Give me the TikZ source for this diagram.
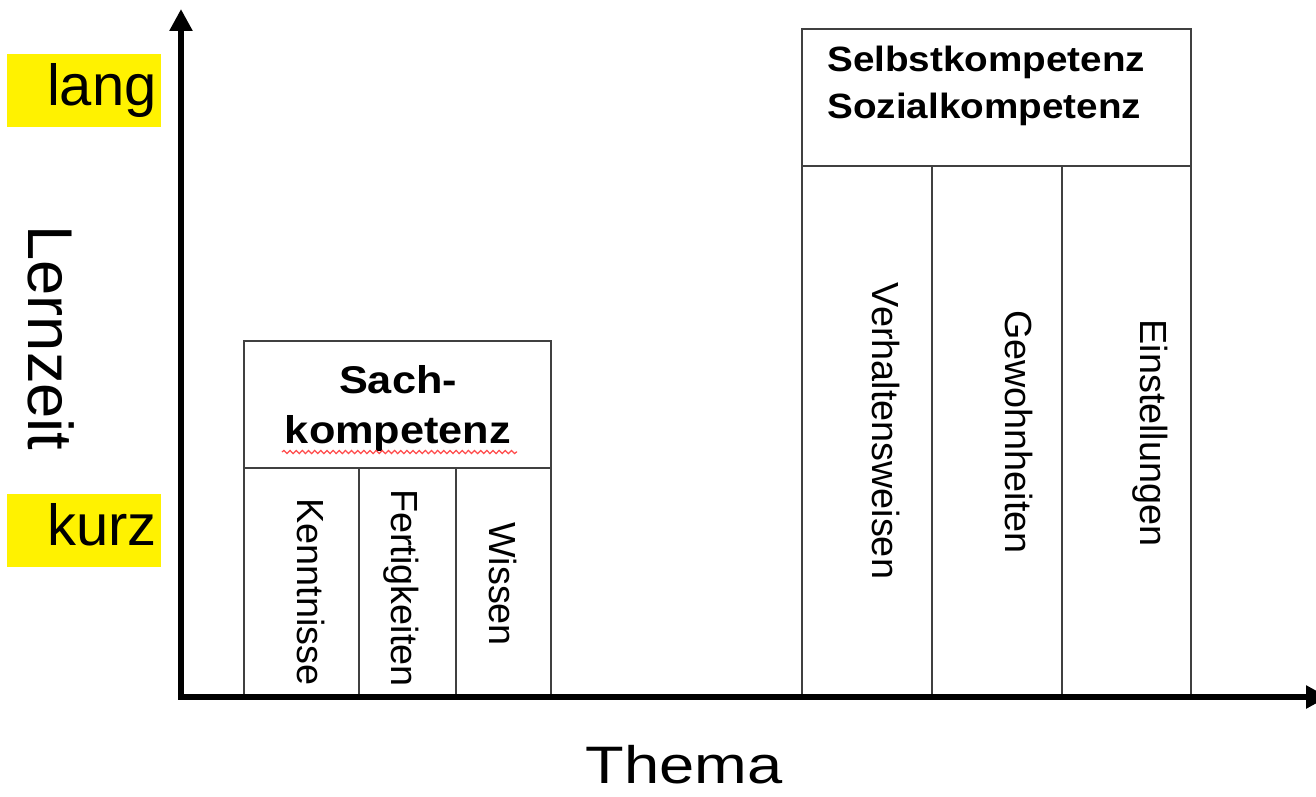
\documentclass[tikz,border=0pt]{standalone}
\usepackage{fontspec}
\setmainfont{Liberation Sans}
\usetikzlibrary{arrows.meta,decorations.pathmorphing}
\begin{document}
\begin{tikzpicture}[x=0.02cm,y=-0.02cm,
  box/.style={draw=black!75, line width=1.1pt},
  axis/.style={line width=3.4pt, line join=miter, {Triangle[length=12.5pt,width=12.5pt]}-{Triangle[length=12.5pt,width=12.5pt]}},
  big/.style={font=\fontsize{33}{36}\selectfont, inner sep=0pt},
  coltext/.style={font=\fontsize{21.5}{24}\selectfont, rotate=-90, inner sep=0pt},
  sachhead/.style={font=\bfseries\fontsize{22}{26}\selectfont, inner sep=0pt},
  selbsthead/.style={font=\bfseries\fontsize{20}{24}\selectfont, inner sep=0pt},
  hl/.style={fill=yellow}
]
\useasboundingbox (0,0) rectangle (1316,796);

% yellow labels
\fill[hl] (7,54) rectangle (161,127);
\fill[hl] (7,494) rectangle (161,567);
\node[big, anchor=base east] (lang) at (157,105) {lang};
\node[big, anchor=base east] (kurz) at (157,545) {kurz};

% axis labels
\node[big, rotate=-90, font=\fontsize{36}{40}\selectfont] (lernzeit) at (51,338) {Lernzeit};
\node[big, anchor=base, font=\fontsize{30}{34}\selectfont] (thema) at (684,783) {\scalebox{1.2}[1]{Thema}};

% Sachkompetenz block
\draw[box] (244,341) rectangle (551,468);
\draw[box] (244,468) rectangle (359,698);
\draw[box] (359,468) rectangle (456,698);
\draw[box] (456,468) rectangle (551,698);
\node[sachhead, anchor=base] (sach) at (398,393) {\scalebox{1.12}[1]{Sach-}};
\node[sachhead, anchor=base] (kompetenz) at (398,443) {\scalebox{1.12}[1]{kompetenz}};
\coordinate (sqA) at (282,452);
\coordinate (sqB) at (517,452);
\draw[red!70, line width=0.7pt, decorate, decoration={snake, amplitude=0.9pt, segment length=3.5pt}] (sqA) -- (sqB);
\node[coltext] (kenntnisse) at (311,592) {Kenntnisse};
\node[coltext] (fertigkeiten) at (401,588) {Fertigkeiten};
\node[coltext] (wissen) at (503,584) {Wissen};

% Selbst-/Sozialkompetenz block
\draw[box] (802,29) rectangle (1191,166);
\draw[box] (802,166) rectangle (932,698);
\draw[box] (932,166) rectangle (1062,698);
\draw[box] (1062,166) rectangle (1191,698);
\node[selbsthead, anchor=base west] (selbst) at (827,71) {\scalebox{1.1}[1]{Selbstkompetenz}};
\node[selbsthead, anchor=base west] (sozial) at (827,118) {\scalebox{1.1}[1]{Sozialkompetenz}};
\node[coltext] (verhalten) at (886,431) {Verhaltensweisen};
\node[coltext] (gewohn) at (1019,432) {Gewohnheiten};
\node[coltext] (einstell) at (1150,433) {Einstellungen};

% axes
\coordinate (ytip) at (181,9);
\coordinate (origin) at (181,697);
\coordinate (xtip) at (1328,697);
\draw[axis] (ytip) -- (origin) -- (xtip);
\end{tikzpicture}
\end{document}
